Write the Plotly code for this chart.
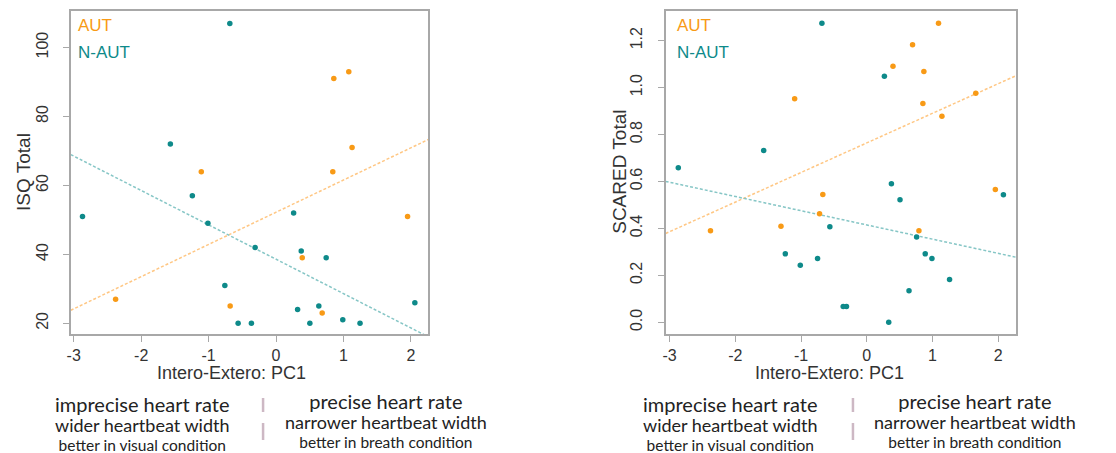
import numpy as np
import plotly.graph_objects as go

# ---------------- data ----------------
aut_x_isq = [-2.379, -1.108, -0.680, 0.389, 0.685, 0.857, 1.079, 0.842, 1.128, 1.951]
aut_y_isq = [27, 64, 25, 39, 23, 91, 93, 64, 71, 51]
naut_x_isq = [-2.87, -0.685, -1.567, -1.241, -1.010, -0.759, -0.562, -0.365, -0.310,
              0.261, 0.374, 0.320, 0.502, 0.635, 0.744, 0.990, 1.246, 2.059]
naut_y_isq = [51, 107, 72, 57, 49, 31, 20, 20, 42, 52, 41, 24, 20, 25, 39, 21, 20, 26]

aut_x_scared = [-2.378, -1.097, -1.305, -0.718, -0.668, 0.400, 0.698, 0.870, 0.855,
                1.093, 1.145, 0.795, 1.660, 1.958]
aut_y_scared = [0.390, 0.952, 0.409, 0.462, 0.545, 1.091, 1.182, 1.068, 0.932,
                1.274, 0.878, 0.390, 0.976, 0.566]
naut_x_scared = [-2.868, -0.682, -1.568, -1.239, -1.011, -0.748, -0.561, -0.358, -0.308,
                 0.269, 0.376, 0.507, 0.335, 0.644, 0.760, 0.891, 0.993, 1.261, 2.081]
naut_y_scared = [0.658, 1.274, 0.732, 0.292, 0.243, 0.272, 0.407, 0.067, 0.067,
                 1.048, 0.590, 0.522, 0.000, 0.135, 0.363, 0.292, 0.272, 0.182, 0.543]

x_ticks = [-3, -2, -1, 0, 1, 2]
x_tick_labels = ["-3", "-2", "-1", "0", "1", "2"]
isq_ticks = [20, 40, 60, 80, 100]
scared_ticks = [0.0, 0.2, 0.4, 0.6, 0.8, 1.0, 1.2]

group_labels = ["AUT", "N-AUT"]
x_title = "Intero-Extero: PC1"
y_titles = ["ISQ Total", "SCARED Total"]
left_lines = ["imprecise heart rate", "wider heartbeat width", "better in visual condition"]
right_lines = ["precise heart rate", "narrower heartbeat width", "better in breath condition"]

# ---------------- style ----------------
W, H = 1116, 453
ORANGE = "#F89A16"
TEAL = "#0E8A8A"
ORANGE_L = "#FFC784"
TEAL_L = "#86C6C6"
FRAME = "#A8A8A8"
AXFONT = "Liberation Sans"
TXFONT = "Lato"

def px(x):
    return x / W

def py(y):
    return 1 - y / H

xr1 = [-3.044, 2.261]
yr1 = [16.9, 110.6]
xr2 = [-3.061, 2.278]
yr2 = [-0.0496, 1.326]

fig = go.Figure()

def add_panel(xa, ya, xname, yname, xr):
    coef_a = np.polyfit(xa[0], xa[1], 1)
    coef_n = np.polyfit(ya[0], ya[1], 1)
    xs = np.array(xr)
    fig.add_trace(go.Scatter(x=xs, y=np.polyval(coef_a, xs), mode="lines",
                             line=dict(color=ORANGE_L, width=1.5, dash="3px,2px"),
                             xaxis=xname, yaxis=yname, showlegend=False, hoverinfo="skip"))
    fig.add_trace(go.Scatter(x=xs, y=np.polyval(coef_n, xs), mode="lines",
                             line=dict(color=TEAL_L, width=1.5, dash="3px,2px"),
                             xaxis=xname, yaxis=yname, showlegend=False, hoverinfo="skip"))
    fig.add_trace(go.Scatter(x=ya[0], y=ya[1], mode="markers",
                             marker=dict(color=TEAL, size=5.5),
                             xaxis=xname, yaxis=yname, showlegend=False))
    fig.add_trace(go.Scatter(x=xa[0], y=xa[1], mode="markers",
                             marker=dict(color=ORANGE, size=5.5),
                             xaxis=xname, yaxis=yname, showlegend=False))

add_panel((aut_x_isq, aut_y_isq), (naut_x_isq, naut_y_isq), "x", "y", xr1)
add_panel((aut_x_scared, aut_y_scared), (naut_x_scared, naut_y_scared), "x2", "y2", xr2)

axis_common = dict(showgrid=False, zeroline=False, showline=True, mirror=True,
                   linecolor=FRAME, linewidth=1.5, ticks="outside", ticklen=6,
                   tickcolor=FRAME, tickwidth=1.2,
                   tickfont=dict(family=AXFONT, size=16, color="#333333"))

ydom = [py(334), py(11)]
fig.update_layout(
    width=W, height=H,
    margin=dict(l=0, r=0, t=0, b=0),
    paper_bgcolor="white", plot_bgcolor="white",
    xaxis=dict(domain=[px(67), px(426)], range=xr1, tickvals=x_ticks, ticktext=x_tick_labels,
               anchor="y", **axis_common),
    yaxis=dict(domain=ydom, range=yr1, tickvals=isq_ticks, tickangle=-90, anchor="x",
               ticklabelstandoff=9, **axis_common),
    xaxis2=dict(domain=[px(664), px(1016)], range=xr2, tickvals=x_ticks, ticktext=x_tick_labels,
                anchor="y2", **axis_common),
    yaxis2=dict(domain=ydom, range=yr2, tickvals=scared_ticks, tickformat=".1f",
                tickangle=-90, anchor="x2", ticklabelstandoff=9, **axis_common),
)

ann = []
def text(x, y, s, size, color="#222222", family=TXFONT, angle=0, xanchor="center", yanchor="middle"):
    ann.append(dict(x=px(x), y=py(y), xref="paper", yref="paper", text=s, showarrow=False,
                    xanchor=xanchor, yanchor=yanchor, textangle=angle,
                    font=dict(family=family, size=size, color=color)))

# group labels
for x0 in (72, 673):
    text(x0, 26, group_labels[0], 17, ORANGE, AXFONT, xanchor="left")
    text(x0, 52, group_labels[1], 17, TEAL, AXFONT, xanchor="left")

# axis titles
text(228, 373, x_title, 18, "#333333", AXFONT)
text(828, 373, x_title, 18, "#333333", AXFONT)
text(20, 172, y_titles[0], 19, "#333333", AXFONT, angle=-90)
text(618, 172, y_titles[1], 19, "#333333", AXFONT, angle=-90)

# bottom descriptions (one multi-line text block per side)
def block(lines):
    sizes = (20, 18, 15.5)
    return "<br>".join(f"<span style='font-size:{s}px'>{t}</span>" for t, s in zip(lines, sizes))

for cx_l, cx_r in ((138, 383), (729, 974)):
    text(cx_l, 423, block(left_lines), 15)
    text(cx_r, 420, block(right_lines), 15)

fig.update_layout(annotations=ann)

shapes = []
for sx in (260, 852):
    for (a, b) in ((398, 412), (423, 440)):
        shapes.append(dict(type="line", xref="paper", yref="paper",
                           x0=px(sx), x1=px(sx), y0=py(a), y1=py(b),
                           line=dict(color="#CDB8C4", width=2.5)))
fig.update_layout(shapes=shapes)

fig.write_html("out.html")
